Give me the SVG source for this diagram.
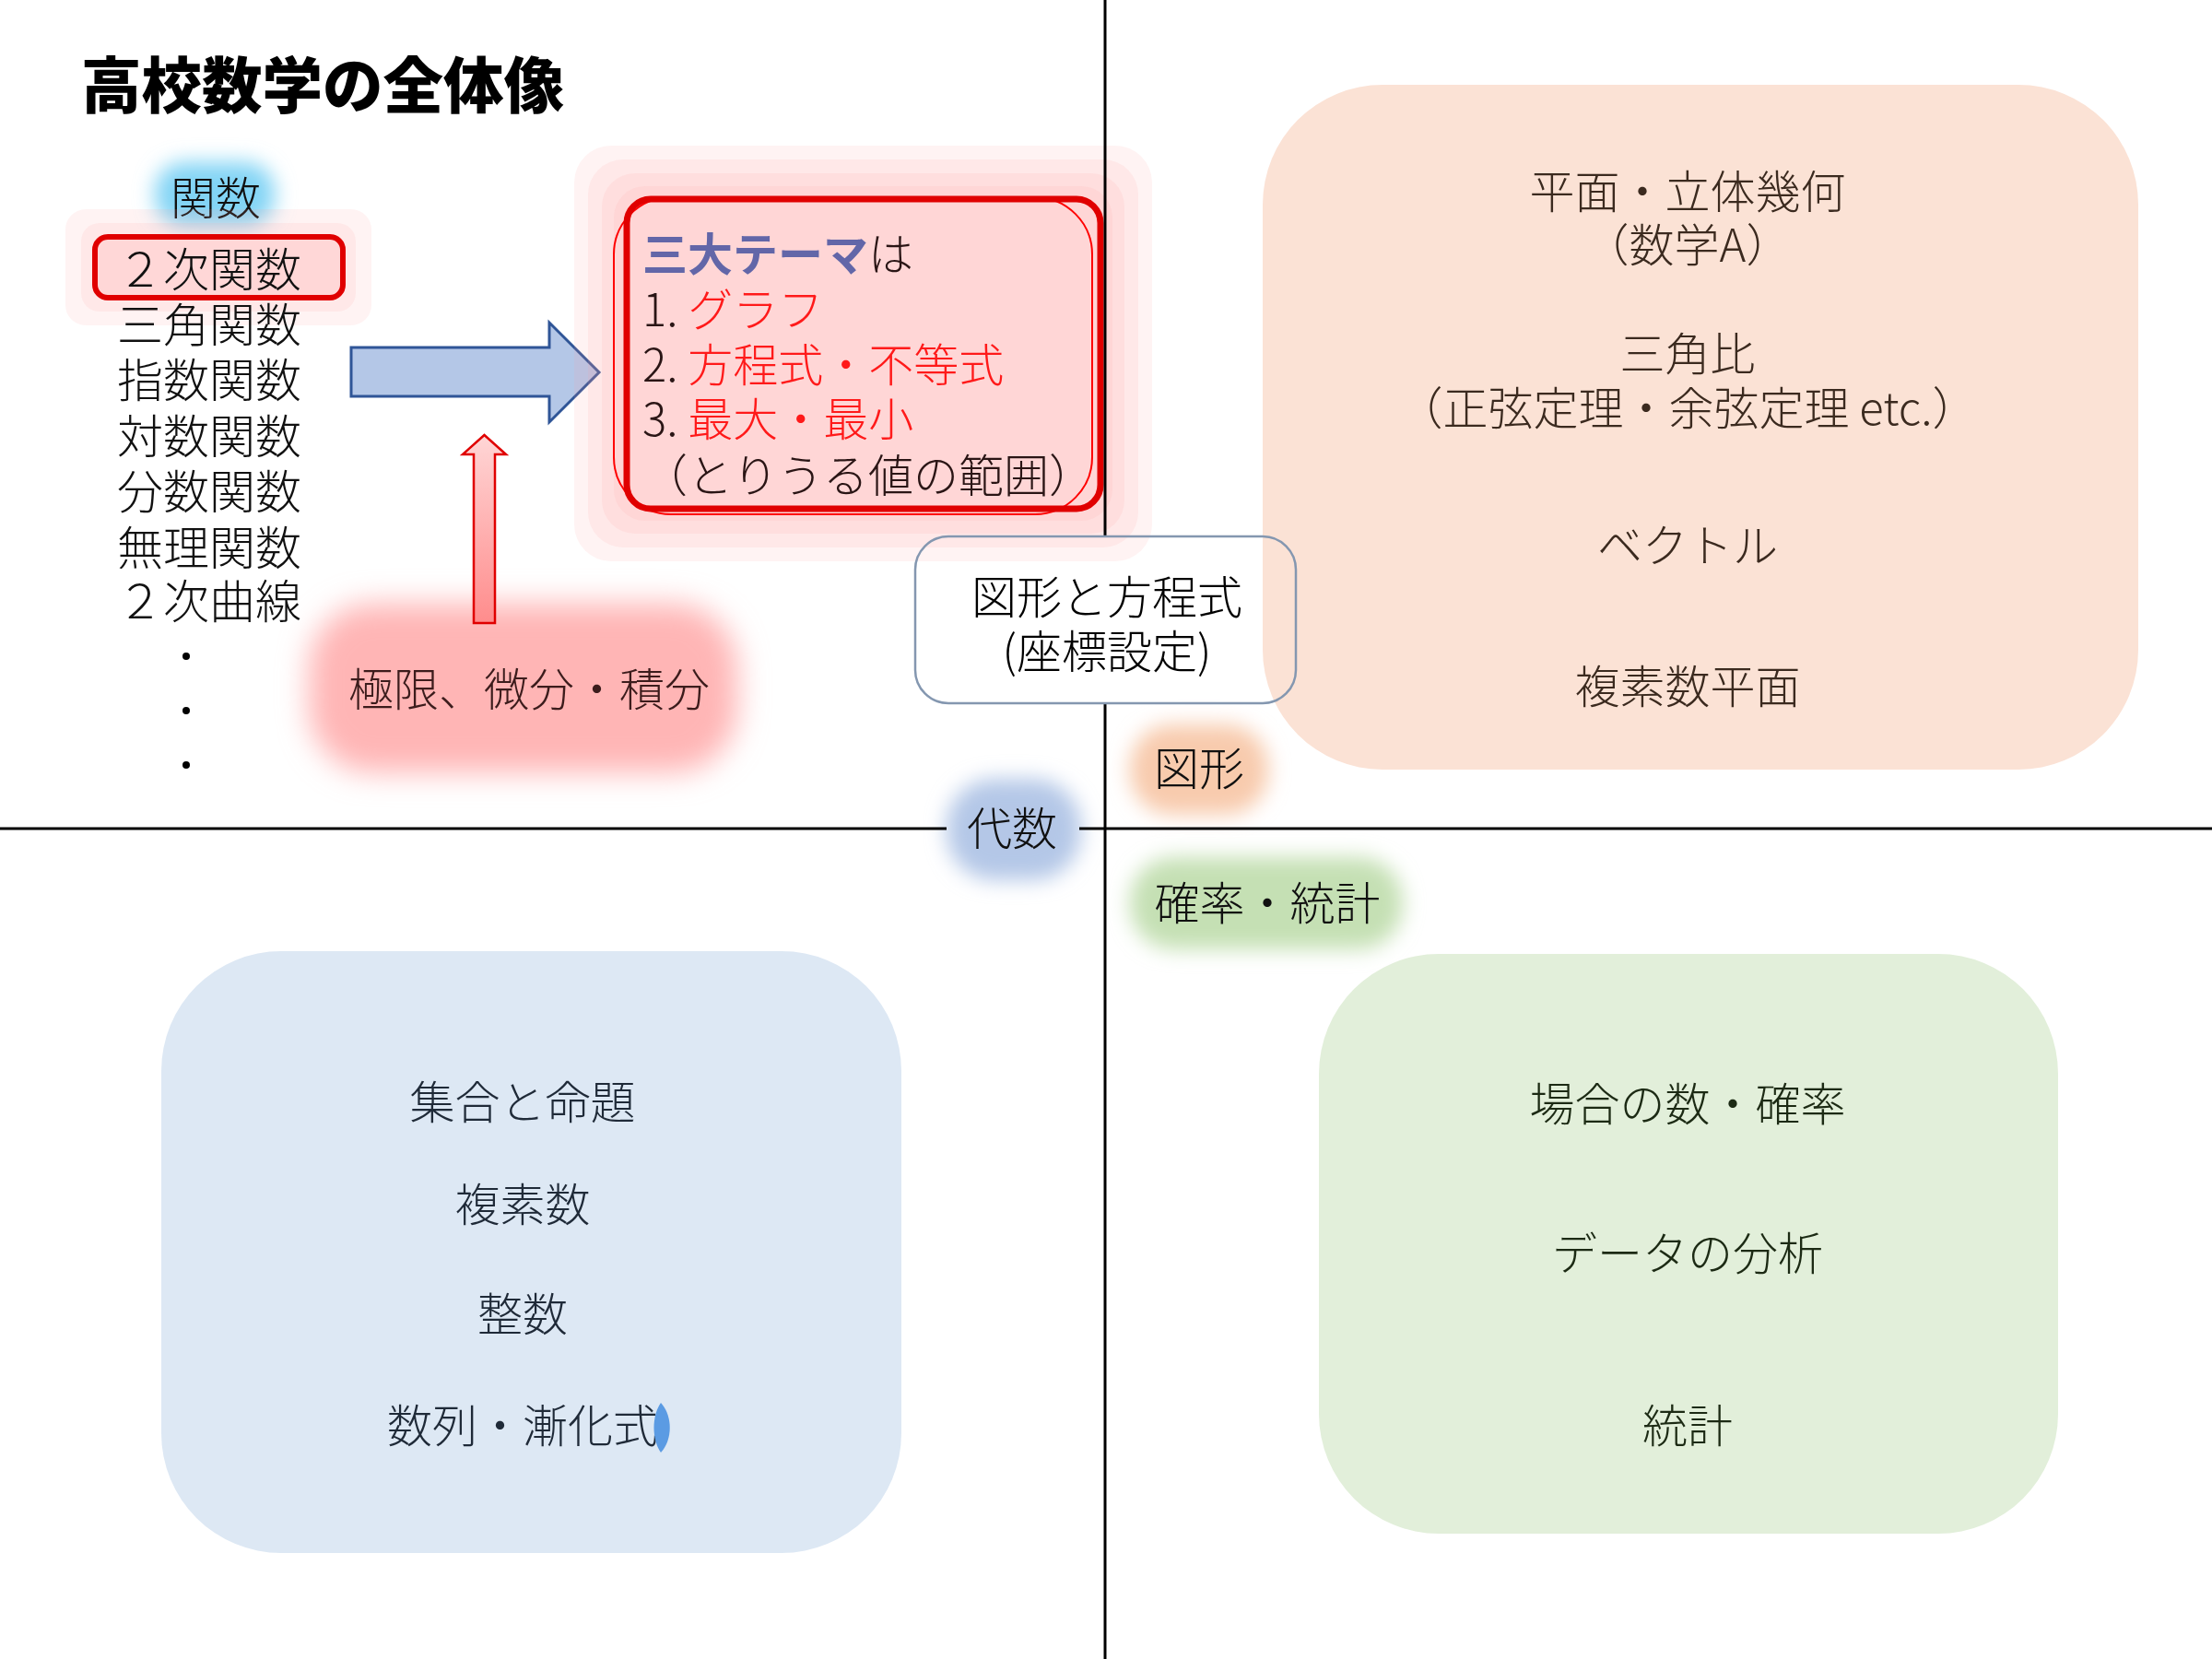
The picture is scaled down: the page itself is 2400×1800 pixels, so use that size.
<svg xmlns="http://www.w3.org/2000/svg" width="2400" height="1800" viewBox="0 0 2400 1800">
<style>
text{font-family:"Noto Sans CJK JP","Noto Sans",sans-serif;font-weight:300;font-size:49px}
.title{font-weight:900;font-size:65.5px;fill:#000}
.lst{fill:#111;font-size:50px}
.ctr{text-anchor:middle}
.org{fill:#3b2a1f}
.blu{fill:#1f2a38}
.grn{fill:#1c2a14}
.red{fill:#ff1a1a}
.axis{stroke:#000;stroke-width:3;fill:none}
.layer{fill:#ff9a9a;fill-opacity:0.12}
</style>
<defs>
<filter id="blur" x="-50%" y="-50%" width="200%" height="200%"><feGaussianBlur stdDeviation="11"/></filter>
<filter id="blur2" x="-50%" y="-50%" width="200%" height="200%"><feGaussianBlur stdDeviation="16"/></filter>
<linearGradient id="upg" x1="0" y1="0" x2="0" y2="1">
<stop offset="0" stop-color="#ffd6d6"/><stop offset="1" stop-color="#ff8c8c"/>
</linearGradient>
</defs>
<rect width="2400" height="1800" fill="#fff"/>

<!-- glows -->
<g id="glows">
<rect x="168" y="176" width="130" height="70" rx="32" fill="#82d4f5" filter="url(#blur)"/>
<rect x="335" y="655" width="465" height="183" rx="70" fill="#ffb5b5" filter="url(#blur2)"/>
<rect x="1027" y="845" width="146" height="110" rx="52" fill="#b4c7e7" filter="url(#blur)"/>
<rect x="1226" y="786" width="150" height="98" rx="46" fill="#f8cbad" filter="url(#blur)"/>
<rect x="1226" y="930" width="296" height="100" rx="48" fill="#c5e0b4" filter="url(#blur)"/>
</g>

<!-- quadrant boxes -->
<g id="geometry-box">
<rect x="1370" y="92" width="950" height="743" rx="130" fill="#fbe2d5"/>
<g class="org">
<text class="ctr" x="1831" y="226">平面・立体幾何</text>
<text class="ctr" x="1831" y="284">（数学A）</text>
<text class="ctr" x="1831" y="402">三角比</text>
<text class="ctr" x="1831" y="461">（正弦定理・余弦定理 etc.）</text>
<text class="ctr" x="1831" y="610">ベクトル</text>
<text class="ctr" x="1831" y="763">複素数平面</text>
</g>
</g>
<g id="algebra-box">
<rect x="175" y="1032" width="803" height="653" rx="130" fill="#dde8f4"/>
<g class="blu">
<text class="ctr" x="567" y="1214">集合と命題</text>
<text class="ctr" x="567" y="1325">複素数</text>
<text class="ctr" x="567" y="1444">整数</text>
<text class="ctr" x="567" y="1565">数列・漸化式</text>
</g>
<path d="M717,1522 C730,1536 730,1562 717,1576 C707,1562 707,1536 717,1522 Z" fill="#5b9be3"/>
</g>
<g id="probability-box">
<rect x="1431" y="1035" width="802" height="629" rx="130" fill="#e2efda"/>
<g class="grn">
<text class="ctr" x="1831" y="1216">場合の数・確率</text>
<text class="ctr" x="1831" y="1378">データの分析</text>
<text class="ctr" x="1831" y="1565">統計</text>
</g>
</g>

<!-- connectors / arrows -->
<g id="connectors">
<path d="M381,377 H596 V350 L650,404 L596,458 V430 H381 Z" fill="#b4c7e7" stroke="#2f5597" stroke-width="3" stroke-linejoin="miter"/>
<path d="M514,676 V493 H502 L525.5,472 L549,493 H537 V676 Z" fill="url(#upg)" stroke="#e00000" stroke-width="2.5"/>
</g>

<!-- central theme box -->
<g id="theme-box">
<rect class="layer" x="623" y="158" width="627" height="451" rx="40"/>
<rect class="layer" x="638" y="173" width="597" height="421" rx="38"/>
<rect class="layer" x="653" y="188" width="567" height="391" rx="36"/>
<rect class="layer" x="666" y="202" width="541" height="363" rx="34"/>
<rect x="666" y="214" width="519" height="344" rx="62" fill="none" stroke="#ff0000" stroke-width="2"/>
<rect x="680" y="216" width="514" height="336" rx="26" fill="none" stroke="#e00000" stroke-width="7"/>
<g fill="#2a1515">
<text x="697" y="294"><tspan font-weight="700" fill="#6266a8">三大テーマ</tspan>は</text>
<text x="697" y="354">1. <tspan class="red">グラフ</tspan></text>
<text x="697" y="414">2. <tspan class="red">方程式・不等式</tspan></text>
<text x="697" y="473">3. <tspan class="red">最大・最小</tspan></text>
<text x="697" y="534">（とりうる値の範囲）</text>
</g>
</g>

<!-- axes -->
<g id="axes">
<path class="axis" d="M1199,0 V582 M1199,763 V1800"/>
<path class="axis" d="M0,899 H1027 M1171,899 H2400"/>
</g>

<g id="coord-box">
<rect x="993" y="582" width="413" height="181" rx="36" fill="none" stroke="#8497b0" stroke-width="2.5"/>
<text class="ctr" x="1201" y="666" fill="#000">図形と方程式</text>
<text class="ctr" x="1201" y="725" fill="#000">(座標設定)</text>
</g>

<!-- title -->
<g id="title"><text class="title" x="88" y="117">高校数学の全体像</text></g>

<!-- function list -->
<g id="functions">
<text class="ctr" x="234" y="233" fill="#111" font-size="48">関数</text>
<rect class="layer" x="71" y="227" width="332" height="126" rx="22"/>
<rect class="layer" x="88" y="242" width="298" height="96" rx="20"/>
<rect x="103" y="257" width="269" height="66" rx="14" fill="#ffd7d7" stroke="#e00000" stroke-width="6"/>
<text class="lst" x="127" y="311" fill="#3a1515">２次関数</text>
<text class="lst" x="127" y="371">三角関数</text>
<text class="lst" x="127" y="431">指数関数</text>
<text class="lst" x="127" y="492">対数関数</text>
<text class="lst" x="127" y="552">分数関数</text>
<text class="lst" x="127" y="613">無理関数</text>
<text class="lst" x="127" y="671">２次曲線</text>
<circle cx="202" cy="712" r="4" fill="#000"/>
<circle cx="202" cy="771" r="4" fill="#000"/>
<circle cx="202" cy="830" r="4" fill="#000"/>
</g>

<g id="calculus"><text class="ctr" x="574" y="766" fill="#3c1c1c" font-size="50">極限、微分・積分</text></g>
<g id="algebra-label"><text class="ctr" x="1098" y="917" fill="#111">代数</text></g>
<g id="geometry-label"><text class="ctr" x="1301" y="852" fill="#111">図形</text></g>
<g id="prob-label"><text class="ctr" x="1375" y="998" fill="#111">確率・統計</text></g>
</svg>
